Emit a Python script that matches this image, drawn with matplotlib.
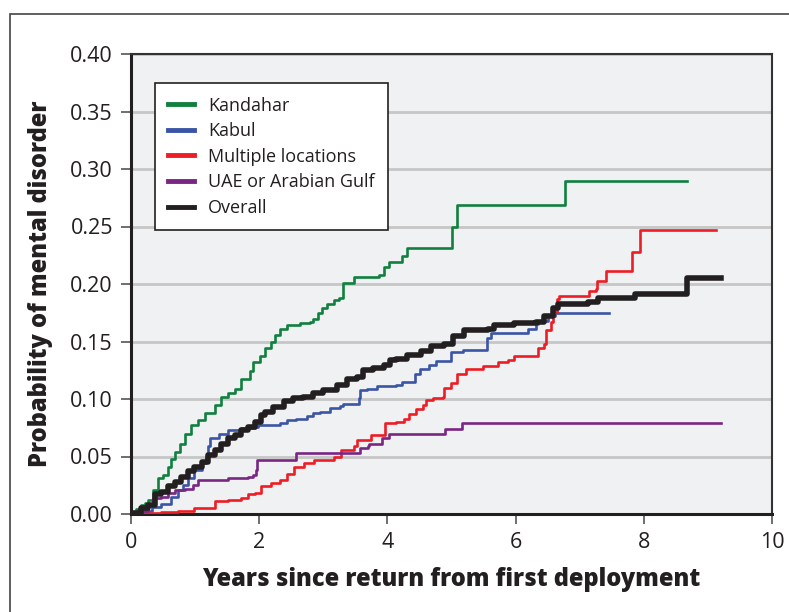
import matplotlib
matplotlib.use("Agg")
import matplotlib.pyplot as plt
from matplotlib.patches import Rectangle

plt.rcParams['font.family'] = ['Open Sans', 'DejaVu Sans']

# Data (step curves: time in years, cumulative probability)
kandahar_t = [0, 0.08, 0.16, 0.22, 0.27, 0.34, 0.42, 0.50, 0.58, 0.63, 0.68, 0.76, 0.84, 0.94, 1.05,
              1.15, 1.31, 1.41, 1.51, 1.62, 1.72, 1.86, 1.91, 2.01, 2.09, 2.19, 2.25, 2.32, 2.43, 2.64,
              2.79, 2.84, 2.92, 2.98, 3.05, 3.16, 3.25, 3.30, 3.48, 3.87, 3.95, 4.03, 4.22, 4.31, 5.01,
              5.09, 6.77, 8.68]
kandahar_p = [0.001, 0.004, 0.008, 0.010, 0.012, 0.021, 0.031, 0.034, 0.041, 0.048, 0.054, 0.061, 0.070, 0.077, 0.082,
              0.088, 0.095, 0.102, 0.105, 0.109, 0.117, 0.124, 0.132, 0.137, 0.144, 0.150, 0.156, 0.161, 0.164, 0.166,
              0.167, 0.170, 0.175, 0.179, 0.183, 0.186, 0.188, 0.201, 0.206, 0.208, 0.215, 0.219, 0.224, 0.231, 0.250,
              0.269, 0.290, 0.290]

kabul_t = [0, 0.21, 0.32, 0.47, 0.63, 0.73, 0.81, 0.89, 0.99, 1.10, 1.17, 1.20, 1.23, 1.38, 1.51, 1.72,
           1.93, 1.98, 2.32, 2.43, 2.58, 2.74, 2.84, 2.95, 3.10, 3.26, 3.31, 3.55, 3.57, 3.68, 3.83, 4.14,
           4.23, 4.43, 4.51, 4.65, 4.76, 4.99, 5.18, 5.55, 5.62, 6.19, 6.32, 6.35, 6.50, 6.61, 7.46]
kabul_p = [0.001, 0.003, 0.006, 0.009, 0.015, 0.021, 0.025, 0.031, 0.038, 0.044, 0.050, 0.059, 0.066, 0.070, 0.073, 0.075,
           0.076, 0.077, 0.079, 0.082, 0.083, 0.085, 0.088, 0.089, 0.092, 0.094, 0.096, 0.101, 0.108, 0.109, 0.111, 0.112,
           0.115, 0.122, 0.126, 0.130, 0.133, 0.141, 0.143, 0.153, 0.157, 0.161, 0.165, 0.168, 0.172, 0.175, 0.175]

multi_t = [0, 0.21, 0.47, 0.73, 0.99, 1.31, 1.51, 1.72, 1.83, 1.93, 2.03, 2.18, 2.33, 2.44, 2.54, 2.70,
           2.85, 3.17, 3.27, 3.48, 3.53, 3.74, 3.96, 4.13, 4.26, 4.34, 4.44, 4.55, 4.60, 4.71, 4.86, 4.89,
           4.99, 5.09, 5.23, 5.49, 5.72, 5.88, 5.98, 6.35, 6.45, 6.47, 6.56, 6.58, 6.65, 6.68, 7.14, 7.26,
           7.27, 7.41, 7.81, 7.94, 9.13]
multi_p = [0.0, 0.001, 0.002, 0.003, 0.005, 0.011, 0.012, 0.014, 0.017, 0.018, 0.024, 0.027, 0.030, 0.035, 0.041, 0.044,
           0.047, 0.050, 0.056, 0.059, 0.064, 0.069, 0.079, 0.080, 0.083, 0.087, 0.091, 0.095, 0.099, 0.101, 0.102, 0.110,
           0.114, 0.122, 0.126, 0.129, 0.132, 0.134, 0.137, 0.144, 0.148, 0.160, 0.167, 0.176, 0.187, 0.190, 0.194, 0.196,
           0.203, 0.211, 0.228, 0.247, 0.247]

uae_t = [0, 0.16, 0.27, 0.34, 0.47, 0.58, 0.68, 0.84, 0.97, 1.05, 1.51, 1.83, 1.90, 1.95, 1.97, 2.57,
         3.58, 3.69, 3.71, 3.92, 4.03, 4.90, 5.16, 9.20]
uae_p = [0.001, 0.003, 0.008, 0.014, 0.015, 0.018, 0.021, 0.022, 0.025, 0.030, 0.031, 0.032, 0.034, 0.038, 0.047, 0.053,
         0.057, 0.059, 0.061, 0.066, 0.070, 0.074, 0.079, 0.079]

overall_t = [0, 0.16, 0.27, 0.37, 0.47, 0.58, 0.68, 0.78, 0.89, 0.99, 1.10, 1.20, 1.31, 1.41, 1.51, 1.62,
             1.72, 1.83, 1.93, 2.03, 2.09, 2.22, 2.38, 2.53, 2.69, 2.84, 3.00, 3.21, 3.37, 3.52, 3.62, 3.78,
             3.94, 4.04, 4.14, 4.31, 4.52, 4.68, 4.89, 5.02, 5.20, 5.57, 5.67, 5.98, 6.32, 6.45, 6.58, 6.66,
             7.13, 7.29, 7.86, 8.67, 9.20]
overall_p = [0.001, 0.005, 0.008, 0.017, 0.019, 0.024, 0.028, 0.032, 0.037, 0.041, 0.045, 0.051, 0.056, 0.061, 0.066, 0.069,
             0.073, 0.076, 0.080, 0.086, 0.089, 0.093, 0.098, 0.101, 0.102, 0.105, 0.108, 0.112, 0.117, 0.119, 0.125, 0.127,
             0.130, 0.134, 0.135, 0.138, 0.142, 0.146, 0.148, 0.155, 0.160, 0.161, 0.164, 0.166, 0.167, 0.172, 0.179, 0.183,
             0.184, 0.188, 0.191, 0.205, 0.205]

series = [
    ("Kandahar", kandahar_t, kandahar_p, "#11803f", 1.9),
    ("Kabul", kabul_t, kabul_p, "#3a55a6", 1.9),
    ("Multiple locations", multi_t, multi_p, "#ee1c25", 1.9),
    ("UAE or Arabian Gulf", uae_t, uae_p, "#7a2683", 1.9),
    ("Overall", overall_t, overall_p, "#231f20", 4.0),
]

fig = plt.figure(figsize=(7.89, 6.12), dpi=100)
fig.patch.set_facecolor("white")
# outer frame
fig.patches.append(Rectangle((9.5 / 789, -0.05), 1.0, (612 - 14) / 612 + 0.05, transform=fig.transFigure,
                             fill=False, edgecolor="#444444", linewidth=1.2))

ax = fig.add_axes([131 / 789, (612 - 514) / 612, (772 - 131) / 789, (514 - 54) / 612])
ax.set_facecolor("#f0f1f3")

for name, t, p, c, lw in series:
    ax.step(t, p, where="post", color=c, linewidth=lw, label=name, zorder=3 if name != "Overall" else 4)

ax.set_xlim(0, 10)
ax.set_ylim(0, 0.40)
ax.set_xticks([0, 2, 4, 6, 8, 10])
ax.set_yticks([0.0, 0.05, 0.10, 0.15, 0.20, 0.25, 0.30, 0.35, 0.40])
ax.set_yticklabels([f"{v:.2f}" for v in ax.get_yticks()])
ax.yaxis.grid(True, color="#c6c6c6", linewidth=2)
ax.set_axisbelow(True)
ax.tick_params(axis="both", direction="out", length=7, width=1.2, color="#555555",
               labelsize=15.5, labelcolor="#231f20", pad=6)

for s in ["left", "bottom"]:
    ax.spines[s].set_linewidth(2.2)
    ax.spines[s].set_color("#231f20")
for s in ["top", "right"]:
    ax.spines[s].set_linewidth(1.5)
    ax.spines[s].set_color("#333333")

ax.set_xlabel("Years since return from first deployment", fontsize=17, fontweight="heavy",
              color="#231f20", labelpad=10)
ax.set_ylabel("Probability of mental disorder", fontsize=17, fontweight="heavy",
              color="#231f20", labelpad=12)

leg = ax.legend(loc="upper left", bbox_to_anchor=(0.037, 0.937), fontsize=13, frameon=True,
                fancybox=False, edgecolor="#231f20", framealpha=1, handlelength=1.45,
                handletextpad=0.75, borderpad=0.75, labelspacing=0.42, borderaxespad=0)
leg.get_frame().set_linewidth(1.2)
for line in leg.get_lines():
    line.set_linewidth(3.5)
for txt in leg.get_texts():
    txt.set_color("#231f20")

fig.savefig("out.png", dpi=100)
